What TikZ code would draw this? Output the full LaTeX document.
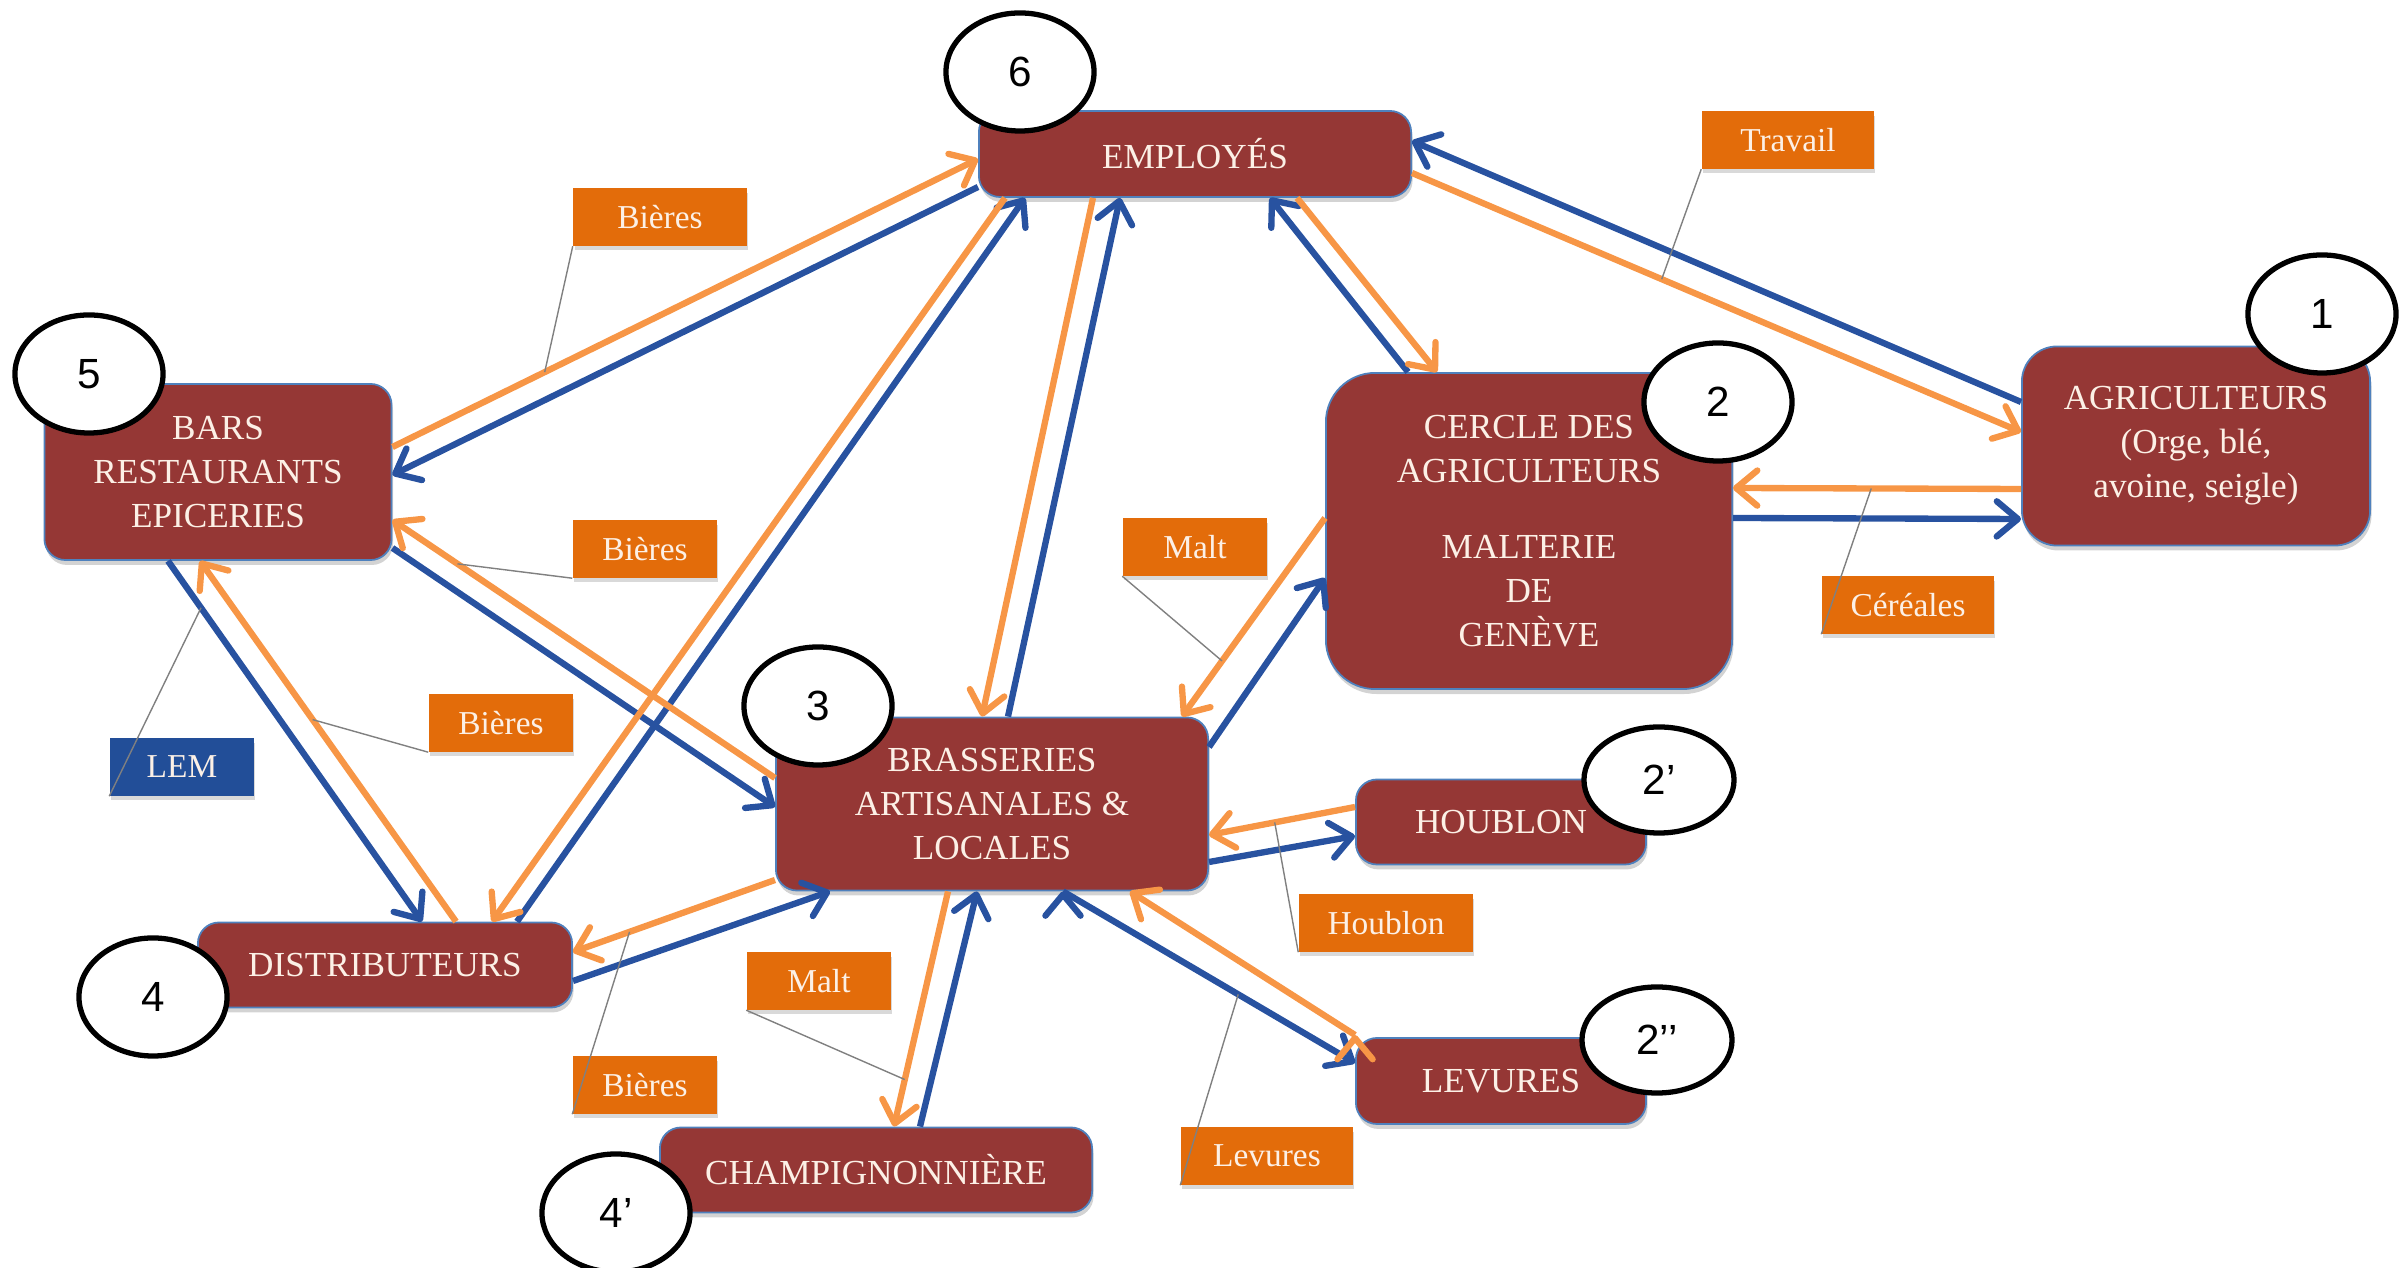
\documentclass[tikz,border=0pt]{standalone}
\usepackage{fontspec}
\setmainfont{Liberation Serif}
\newfontfamily\digitfont{Liberation Sans}
\usepackage{tikz}
\usetikzlibrary{arrows.meta, shapes.geometric, shadows}
\definecolor{boxred}{RGB}{149,55,53}
\definecolor{boxline}{RGB}{79,129,189}
\definecolor{cream}{RGB}{252,240,230}
\definecolor{tagorange}{RGB}{227,108,10}
\definecolor{lemblue}{RGB}{34,78,152}
\definecolor{moneyblue}{RGB}{40,82,160}
\definecolor{goodsorange}{RGB}{247,150,70}

\begin{document}
\begin{tikzpicture}[x=0.01cm, y=-0.01cm,
    box/.style={draw=boxline, line width=0.5pt, fill=boxred, text=cream, rounded corners=6pt, align=center, inner sep=0pt, font={\fontsize{10}{12.5}\selectfont}, drop shadow={shadow xshift=0.4pt, shadow yshift=-1.4pt, opacity=0.35}},
    tag/.style={fill=tagorange, text=cream, minimum width=1.44cm, minimum height=0.57cm, inner sep=0pt, font={\fontsize{9.5}{11}\selectfont}, drop shadow={shadow xshift=0.4pt, shadow yshift=-1.2pt, opacity=0.3}},
    num/.style={ellipse, draw, line width=1.5pt, fill=white, minimum width=1.48cm, minimum height=1.18cm, inner sep=0pt, font={\digitfont\fontsize{12}{14}\selectfont}},
    money/.style={draw=moneyblue, line width=1.8pt, -{Straight Barb[length=6pt, width=10pt, round]}},
    goods/.style={draw=goodsorange, line width=1.8pt, -{Straight Barb[length=6pt, width=10pt, round]}},
    callout/.style={draw=black!50, line width=0.4pt}]
    \useasboundingbox (0,0) rectangle (2405,1268);

    \node[box, minimum width=4.32cm, minimum height=0.86cm] (emp) at (1195,154) {EMPLOYÉS};
    \node[box, rounded corners=10pt, minimum width=3.48cm, minimum height=1.99cm] (agri) at (2196,446) {AGRICULTEURS\\(Orge, blé,\\avoine, seigle)};
    \node[box, rounded corners=14pt, minimum width=4.06cm, minimum height=3.16cm] (cerc) at (1529,531) {CERCLE DES\\AGRICULTEURS\\[9pt]MALTERIE\\DE\\GENÈVE};
    \node[box, minimum width=3.47cm, minimum height=1.76cm] (bars) at (218,472) {BARS\\RESTAURANTS\\EPICERIES};
    \node[box, minimum width=4.32cm, minimum height=1.73cm] (bras) at (992,804) {BRASSERIES\\ARTISANALES \&\\LOCALES};
    \node[box, minimum width=2.90cm, minimum height=0.85cm] (houb) at (1501,822) {HOUBLON};
    \node[box, minimum width=2.90cm, minimum height=0.86cm] (lev) at (1501,1081) {LEVURES};
    \node[box, minimum width=3.74cm, minimum height=0.85cm] (dist) at (385,965) {DISTRIBUTEURS};
    \node[box, minimum width=4.32cm, minimum height=0.85cm] (champ) at (876,1170) {CHAMPIGNONNIÈRE};

    \path[money]
    ([shift={(0,-44)}]agri.west) edge ([shift={(0,-13)}]emp.east)
    ([shift={(0,-13)}]cerc.east) edge ([shift={(0,73)}]agri.west)
    ([shift={(-121,0)}]cerc.north) edge ([shift={(75,0)}]emp.south)
    ([shift={(0,-57)}]bras.east) edge ([shift={(0,47)}]cerc.west)
    ([shift={(16,0)}]bras.north) edge ([shift={(-75,0)}]emp.south)
    ([shift={(0,33)}]emp.west) edge ([shift={(0,3)}]bars.east)
    ([shift={(132,0)}]dist.north) edge ([shift={(-170,0)}]emp.south)
    ([shift={(0,76)}]bars.east) edge ([shift={(0,3)}]bras.west)
    ([shift={(-50,0)}]bars.south) edge node[coordinate, pos=.13] (lemc) {} ([shift={(37,0)}]dist.north)
    ([shift={(0,16)}]dist.east) edge ([shift={(-162,0)}]bras.south)
    ([shift={(44,0)}]champ.north) edge ([shift={(-15,0)}]bras.south)
    ([shift={(0,58)}]bras.east) edge ([shift={(0,14)}]houb.west)
    ([shift={(71,0)}]bras.south) edge node[coordinate, pos=.6] (levc) {} ([shift={(0,-18)}]lev.west)
    ;

    \path[goods]
    ([shift={(0,19)}]emp.east) edge node[coordinate, pos=.41] (travc) {} ([shift={(0,-14)}]agri.west)
    ([shift={(0,43)}]agri.west) edge node[coordinate, pos=.52] (cerec) {} ([shift={(0,-43)}]cerc.east)
    ([shift={(102,0)}]emp.south) edge ([shift={(-92,0)}]cerc.north)
    ([shift={(0,-13)}]cerc.west) edge node[coordinate, pos=.72] (maltc) {} ([shift={(190,0)}]bras.north)
    ([shift={(-102,0)}]emp.south) edge ([shift={(-10,0)}]bras.north)
    ([shift={(0,-25)}]bars.east) edge node[coordinate, pos=.26] (bierc) {} ([shift={(0,5)}]emp.west)
    ([shift={(-190,0)}]emp.south) edge ([shift={(107,0)}]dist.north)
    ([shift={(0,-26)}]bras.west) edge node[coordinate, pos=.83] (bierd) {} ([shift={(0,48)}]bars.east)
    ([shift={(71,0)}]dist.north) edge node[coordinate, pos=.56] (biere) {} ([shift={(-18,0)}]bars.south)
    ([shift={(0,76)}]bras.west) edge node[coordinate, pos=.72] (bierf) {} ([shift={(0,-13)}]dist.east)
    ([shift={(-44,0)}]bras.south) edge node[coordinate, pos=.8] (maltd) {} ([shift={(18,0)}]champ.north)
    ([shift={(0,-15)}]houb.west) edge node[coordinate, pos=.55] (houbc) {} ([shift={(0,31)}]bras.east)
    ([shift={(0,-46)}]lev.west) edge ([shift={(138,0)}]bras.south)
    ;

    \node[tag, minimum width=1.72cm] (trav) at (1788,140) {Travail};
    \node[tag, minimum width=1.73cm] (bier1) at (660,217) {Bières};
    \node[tag] (bier2) at (645,549) {Bières};
    \node[tag] (malt1) at (1195,547) {Malt};
    \node[tag, minimum width=1.72cm] (cere) at (1908,605) {Céréales};
    \node[tag] (bier3) at (501,723) {Bières};
    \node[tag, fill=lemblue] (lem) at (182,767) {LEM};
    \node[tag, minimum width=1.74cm] (houbl) at (1386,923) {Houblon};
    \node[tag] (malt2) at (819,981) {Malt};
    \node[tag] (bier4) at (645,1085) {Bières};
    \node[tag, minimum width=1.72cm] (levl) at (1267,1156) {Levures};

    \draw[callout]
    (trav.south west) -- (travc)
    (bier1.south west) -- (bierc)
    (bier2.south west) -- (bierd)
    (malt1.south west) -- (maltc)
    (cere.south west) -- (cerec)
    (bier3.south west) -- (biere)
    (lem.south west) -- (lemc)
    (houbl.south west) -- (houbc)
    (malt2.south west) -- (maltd)
    (bier4.south west) -- (bierf)
    (levl.south west) -- (levc)
    ;

    \node[num] (n6) at (1020,72) {6};
    \node[num] (n1) at (2322,314) {1};
    \node[num] (n2) at (1718,402) {2};
    \node[num] (n5) at (89,374) {5};
    \node[num] (n3) at (818,706) {3};
    \node[num, minimum width=1.5cm, minimum height=1.06cm] (n2a) at (1659,780) {2’};
    \node[num, minimum width=1.5cm, minimum height=1.06cm] (n2b) at (1657,1040) {2’’};
    \node[num] (n4) at (153,997) {4};
    \node[num] (n4a) at (616,1213) {4’};
\end{tikzpicture}
\end{document}
